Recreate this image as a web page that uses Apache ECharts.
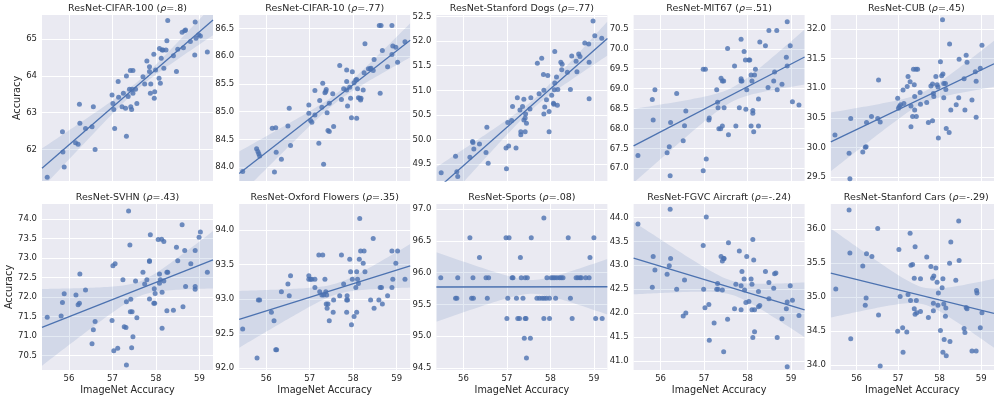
<!DOCTYPE html>
<html><head><meta charset="utf-8">
<script src="https://cdn.jsdelivr.net/npm/echarts@6/dist/echarts.min.js"></script>
<style>html,body{margin:0;padding:0;background:#fff}#c{width:994px;height:400px}</style>
</head><body><div id="c"></div>
<script>
// ---- data ----
const xTicks = [56, 57, 58, 59];
const cifar100 = [[55.50,61.24],[55.85,62.48],[55.86,61.93],[55.89,61.52],[56.15,62.18],[56.21,62.14],[56.24,63.23],[56.25,62.71],[56.38,62.57],[56.53,62.62],[56.56,63.16],[56.60,62.0],[56.99,63.48],[57.01,63.25],[57.03,63.09],[57.05,62.57],[57.13,63.85],[57.14,63.42],[57.22,63.16],[57.25,63.53],[57.30,63.12],[57.32,64.0],[57.32,62.36],[57.36,63.44],[57.39,63.64],[57.41,64.15],[57.42,63.16],[57.44,63.09],[57.45,63.64],[57.47,63.53],[57.47,64.15],[57.53,63.64],[57.56,63.25],[57.70,63.98],[57.74,63.78],[57.79,64.41],[57.85,64.25],[57.85,64.12],[57.87,63.53],[57.88,63.78],[57.95,64.59],[57.96,63.39],[57.97,63.57],[57.99,64.16],[58.07,63.94],[58.08,64.75],[58.10,63.80],[58.12,64.48],[58.14,64.71],[58.16,64.71],[58.18,64.21],[58.23,64.71],[58.25,64.96],[58.27,65.51],[58.47,64.12],[58.40,64.55],[58.50,64.73],[58.60,65.19],[58.63,64.77],[58.66,65.23],[58.68,65.25],[58.79,64.94],[58.89,64.57],[58.90,65.47],[58.92,65.03],[58.98,65.12],[59.02,65.09],[59.18,64.65]];
const cifar10 = [[55.46,83.92],[55.78,84.33],[55.81,84.28],[55.83,84.24],[55.85,84.20],[56.14,84.70],[56.22,84.71],[56.19,83.91],[56.23,84.27],[56.35,84.14],[56.50,84.74],[56.53,85.06],[56.56,84.39],[56.98,85.12],[56.98,84.97],[57.02,84.84],[57.05,84.81],[57.12,85.38],[57.12,84.94],[57.21,84.43],[57.23,85.20],[57.28,85.08],[57.30,85.51],[57.32,84.05],[57.35,85.34],[57.37,85.36],[57.38,85.40],[57.40,84.98],[57.42,84.66],[57.45,84.64],[57.45,85.15],[57.53,85.32],[57.55,84.73],[57.69,85.83],[57.73,85.22],[57.78,85.41],[57.85,85.75],[57.85,85.39],[57.85,85.54],[57.87,85.10],[57.92,85.44],[57.94,85.24],[57.96,84.89],[57.98,85.72],[58.02,85.52],[58.06,85.57],[58.08,85.58],[58.08,84.88],[58.10,85.41],[58.12,85.25],[58.15,85.24],[58.17,85.21],[58.18,85.24],[58.23,85.39],[58.25,85.70],[58.27,86.22],[58.35,85.77],[58.39,85.77],[58.41,85.78],[58.46,85.74],[58.48,85.94],[58.60,86.55],[58.64,86.55],[58.62,85.33],[58.67,86.10],[58.79,85.81],[58.89,86.55],[58.89,86.03],[58.91,86.18],[58.98,86.16],[59.02,85.89],[59.19,86.26]];
const dogs = [[55.49,49.33],[55.82,49.66],[55.85,49.35],[55.87,49.25],[56.15,49.64],[56.21,49.96],[56.22,49.94],[56.24,49.81],[56.37,49.91],[56.52,49.74],[56.54,50.25],[56.57,49.52],[56.98,49.83],[56.99,49.41],[57.04,49.87],[57.02,50.35],[57.11,50.39],[57.13,50.67],[57.21,49.83],[57.24,50.85],[57.30,50.60],[57.32,50.16],[57.32,50.10],[57.36,50.67],[57.39,50.82],[57.39,50.40],[57.42,50.44],[57.42,50.16],[57.43,50.52],[57.45,50.33],[57.53,50.62],[57.55,50.85],[57.70,51.55],[57.74,50.93],[57.80,51.65],[57.84,51.32],[57.85,51.0],[57.85,50.52],[57.87,50.66],[57.91,50.81],[57.94,51.30],[57.97,50.57],[57.97,50.16],[58.03,50.90],[58.07,50.74],[58.08,50.72],[58.09,51.01],[58.10,51.79],[58.10,51.15],[58.14,51.27],[58.16,50.70],[58.17,51.02],[58.24,51.57],[58.26,51.42],[58.27,51.53],[58.39,51.37],[58.46,51.02],[58.49,51.70],[58.59,51.59],[58.61,51.38],[58.65,51.74],[58.68,51.69],[58.79,51.96],[58.88,51.94],[58.89,51.57],[58.89,50.83],[58.98,52.41],[59.02,52.11],[59.18,52.06]];
const mit67 = [[55.48,67.32],[55.81,68.73],[55.83,68.21],[55.87,68.97],[56.15,67.39],[56.20,67.54],[56.23,68.15],[56.22,66.81],[56.37,68.88],[56.52,67.69],[56.55,68.07],[56.58,68.44],[56.98,69.49],[57.03,69.49],[56.98,66.94],[57.05,67.23],[57.11,68.21],[57.12,68.26],[57.29,68.97],[57.31,68.66],[57.32,68.52],[57.34,67.99],[57.38,67.99],[57.39,69.26],[57.42,69.19],[57.42,68.06],[57.45,69.19],[57.46,68.52],[57.54,70.01],[57.56,67.84],[57.70,69.57],[57.73,68.06],[57.81,68.52],[57.85,70.24],[57.85,69.25],[57.85,69.19],[57.87,69.19],[57.92,69.93],[57.95,69.72],[57.96,68.48],[57.98,68.97],[58.03,69.72],[58.05,69.72],[58.08,68.06],[58.08,69.34],[58.10,69.19],[58.12,68.38],[58.12,68.45],[58.14,67.92],[58.16,69.34],[58.18,69.49],[58.25,68.06],[58.25,68.74],[58.28,70.17],[58.41,70.08],[58.47,69.03],[58.49,70.46],[58.60,69.19],[58.62,69.42],[58.67,70.46],[58.68,68.97],[58.79,69.11],[58.89,69.79],[58.91,70.68],[58.91,69.57],[58.98,70.08],[59.03,68.67],[59.18,68.59]];
const cub = [[55.48,30.21],[55.82,29.90],[55.84,29.47],[55.86,30.49],[56.15,29.92],[56.21,30.0],[56.23,30.01],[56.24,30.42],[56.36,30.52],[56.51,30.49],[56.53,31.14],[56.57,30.43],[56.99,30.83],[57.01,30.66],[57.03,30.69],[57.06,30.72],[57.12,30.97],[57.14,30.74],[57.22,31.03],[57.24,31.20],[57.29,31.11],[57.31,30.70],[57.31,30.35],[57.35,30.52],[57.37,31.32],[57.39,31.06],[57.40,30.86],[57.40,30.63],[57.43,31.32],[57.44,30.52],[57.47,31.32],[57.53,30.93],[57.54,30.73],[57.69,30.76],[57.73,30.42],[57.79,31.04],[57.83,31.07],[57.83,30.45],[57.85,30.91],[57.86,30.86],[57.91,31.20],[57.94,31.06],[57.96,31.02],[57.97,30.16],[58.02,31.45],[58.05,31.21],[58.07,32.16],[58.08,31.24],[58.10,30.84],[58.10,31.08],[58.14,31.08],[58.15,30.98],[58.16,30.32],[58.23,30.25],[58.24,31.75],[58.27,30.63],[58.40,30.72],[58.47,31.49],[58.46,30.84],[58.59,31.16],[58.61,30.63],[58.64,31.56],[58.66,31.44],[58.78,30.80],[58.86,31.28],[58.88,31.12],[58.88,30.51],[58.98,31.34],[59.02,31.73]];
const svhn = [[55.50,71.48],[55.82,71.51],[55.85,71.86],[55.89,72.08],[56.16,72.05],[56.21,71.80],[56.24,71.84],[56.25,72.59],[56.38,72.18],[56.53,70.80],[56.56,71.16],[56.60,71.37],[56.99,71.40],[57.01,72.80],[57.03,70.62],[57.06,72.85],[57.12,70.69],[57.24,72.44],[57.27,71.24],[57.31,71.22],[57.32,71.88],[57.32,70.26],[57.37,74.20],[57.40,73.33],[57.41,71.62],[57.42,71.94],[57.44,70.70],[57.45,71.62],[57.47,70.98],[57.53,72.41],[57.56,71.47],[57.70,72.63],[57.74,72.33],[57.79,72.44],[57.85,71.95],[57.85,72.93],[57.85,72.91],[57.87,73.59],[57.95,71.84],[57.96,72.21],[57.97,71.84],[57.98,72.09],[58.05,73.47],[58.08,72.59],[58.08,72.35],[58.10,72.44],[58.13,73.48],[58.14,71.20],[58.14,72.12],[58.18,73.42],[58.18,72.41],[58.25,72.63],[58.27,72.63],[58.25,71.65],[58.40,71.66],[58.47,73.27],[58.50,72.93],[58.60,73.85],[58.62,71.75],[58.66,73.19],[58.68,72.27],[58.80,72.85],[58.90,72.27],[58.90,72.20],[58.90,73.19],[58.99,73.53],[59.02,73.66],[59.18,72.63]];
const flowers = [[55.46,92.57],[55.79,92.15],[55.82,92.99],[55.85,92.99],[56.12,92.81],[56.18,92.69],[56.22,92.27],[56.24,92.27],[56.35,93.11],[56.50,93.22],[56.53,93.05],[56.56,93.34],[56.98,93.34],[56.98,93.29],[57.02,93.29],[57.05,93.29],[57.12,93.29],[57.12,93.17],[57.21,93.64],[57.23,93.11],[57.28,93.06],[57.30,93.64],[57.32,93.06],[57.35,93.29],[57.37,93.11],[57.38,92.93],[57.39,93.06],[57.40,92.87],[57.42,92.93],[57.45,92.69],[57.55,92.99],[57.54,92.81],[57.69,93.05],[57.73,93.64],[57.78,93.22],[57.85,92.99],[57.85,92.81],[57.86,93.05],[57.87,92.99],[57.92,93.58],[57.94,93.40],[57.96,92.63],[57.98,93.29],[58.02,92.75],[58.06,93.17],[58.08,92.81],[58.08,93.40],[58.10,93.29],[58.12,93.23],[58.14,93.58],[58.15,94.17],[58.17,93.70],[58.23,93.52],[58.25,93.70],[58.27,93.40],[58.40,92.99],[58.46,93.88],[58.48,92.87],[58.59,92.99],[58.62,93.17],[58.65,93.17],[58.67,92.93],[58.79,93.05],[58.89,93.70],[58.89,93.17],[58.91,93.29],[58.98,93.52],[59.02,93.70],[59.19,93.29]];
const sports = [[55.48,95.92],[55.87,95.92],[56.22,95.92],[56.52,95.92],[56.58,95.92],[57.12,95.92],[57.14,95.92],[57.33,95.92],[57.42,95.92],[57.47,95.92],[57.92,95.92],[58.02,95.92],[58.06,95.92],[58.10,95.92],[58.15,95.92],[58.21,95.92],[58.25,95.92],[58.29,95.92],[58.59,95.92],[58.63,95.92],[58.68,95.92],[58.71,95.92],[58.81,95.92],[58.89,95.92],
  [55.82,95.6],[55.85,95.6],[56.19,95.6],[56.23,95.6],[56.55,95.6],[57.02,95.6],[57.22,95.6],[57.37,95.6],[57.69,95.6],[57.75,95.6],[57.81,95.6],[57.86,95.6],[57.91,95.6],[57.98,95.6],[58.12,95.6],[58.46,95.6],
  [56.15,96.55],[56.98,96.55],[57.05,96.55],[57.56,96.55],[58.41,96.55],[59.0,96.55],
  [56.37,96.24],[57.31,96.24],[58.91,96.24],
  [57.0,95.28],[57.25,95.28],[57.29,95.28],[57.42,95.28],[57.44,95.28],[57.85,95.28],[57.98,95.28],[58.5,95.28],[59.04,95.28],[59.19,95.28],
  [57.4,94.97],[57.54,94.97],[57.45,94.66],[57.85,96.86]];
const fgvc = [[55.48,43.86],[55.81,42.54],[55.83,43.18],[55.87,42.90],[56.15,42.81],[56.20,42.99],[56.22,44.17],[56.23,43.14],[56.37,42.50],[56.52,41.94],[56.55,42.69],[56.58,42.0],[56.98,43.41],[56.99,42.50],[57.02,42.11],[57.05,44.01],[57.11,42.18],[57.12,41.43],[57.23,41.79],[57.29,42.50],[57.31,42.62],[57.32,42.50],[57.39,43.18],[57.42,42.48],[57.42,43.09],[57.45,43.14],[57.45,41.19],[57.46,43.14],[57.54,41.87],[57.56,43.47],[57.70,42.09],[57.73,42.60],[57.81,43.30],[57.85,42.57],[57.85,42.07],[57.87,42.87],[57.92,42.71],[57.93,42.48],[57.96,42.22],[57.98,43.18],[58.03,42.24],[58.08,42.71],[58.10,42.60],[58.10,42.07],[58.12,43.54],[58.12,41.49],[58.14,43.11],[58.16,41.61],[58.16,42.07],[58.25,42.13],[58.25,42.45],[58.28,42.16],[58.41,42.87],[58.49,42.64],[58.49,42.30],[58.60,42.52],[58.62,42.82],[58.65,42.84],[58.68,41.49],[58.79,41.88],[58.89,42.09],[58.91,42.23],[58.91,40.88],[58.98,42.57],[59.03,42.27],[59.18,41.95]];
const cars = [[55.50,35.12],[55.82,36.28],[55.84,35.65],[55.86,34.39],[56.15,35.46],[56.21,34.88],[56.23,34.99],[56.24,35.64],[56.37,35.60],[56.51,36.01],[56.53,34.74],[56.57,33.99],[56.99,34.50],[57.02,35.70],[57.05,35.01],[57.11,34.55],[57.12,34.19],[57.21,34.49],[57.24,35.04],[57.29,35.94],[57.30,34.95],[57.31,35.47],[57.35,35.48],[57.39,34.83],[57.39,35.28],[57.41,35.74],[57.41,34.75],[57.44,34.95],[57.45,34.77],[57.54,34.79],[57.54,35.27],[57.69,35.59],[57.73,34.70],[57.79,35.45],[57.83,35.28],[57.85,34.91],[57.85,34.80],[57.86,35.31],[57.91,35.43],[57.94,35.22],[57.96,34.88],[57.97,35.06],[58.02,34.51],[58.06,35.14],[58.08,35.27],[58.08,34.19],[58.10,34.90],[58.11,34.38],[58.14,34.72],[58.15,34.84],[58.16,34.14],[58.25,34.35],[58.27,35.81],[58.24,35.50],[58.39,35.25],[58.46,36.12],[58.47,35.54],[58.59,34.54],[58.61,34.48],[58.64,34.85],[58.66,34.83],[58.78,34.21],[58.88,34.21],[58.89,35.10],[58.90,35.06],[58.98,34.55],[59.02,34.77]];

const names = ['ResNet-CIFAR-100','ResNet-CIFAR-10','ResNet-Stanford Dogs','ResNet-MIT67','ResNet-CUB','ResNet-SVHN','ResNet-Oxford Flowers','ResNet-Sports','ResNet-FGVC Aircraft','ResNet-Stanford Cars'];
const rhos = ['.8','.77','.77','.51','.45','.43','.35','.08','-.24','-.29'];
const datasets = [cifar100, cifar10, dogs, mit67, cub, svhn, flowers, sports, fgvc, cars];
const yRanges = [[61.14,65.66],[83.75,86.74],[49.16,52.53],[66.68,70.85],[29.43,32.24],[70.13,74.38],[91.975,94.38],[94.47,97.08],[40.81,44.28],[33.93,36.37]];
const yTicks = [[62,63,64,65],[84,84.5,85,85.5,86,86.5],[49.5,50,50.5,51,51.5,52,52.5],[67,67.5,68,68.5,69,69.5,70,70.5],[29.5,30,30.5,31,31.5,32],[70.5,71,71.5,72,72.5,73,73.5,74],[92,92.5,93,93.5,94],[94.5,95,95.5,96,96.5,97],[41,41.5,42,42.5,43,43.5,44],[34,34.5,35,35.5,36]];
const yDecimals = [0,1,1,1,1,1,1,1,1,1];
const xRange = [55.38, 59.31];

// ---- layout / style ----
const BLUE = '#4C72B0', TXT = '#262626', FONT = 'DejaVu Sans';
const W = 171, H = 166, LEFT0 = 42, STEP = 197.2, TOPS = [15, 204];
const T95 = 1.997, SLOPE_INFL = 4; // widen slope term to approximate the bootstrap band look

function fit(d) {
  const n = d.length;
  let mx = 0, my = 0; d.forEach(p => { mx += p[0]; my += p[1]; }); mx /= n; my /= n;
  let sxx = 0, sxy = 0; d.forEach(p => { sxx += (p[0]-mx)**2; sxy += (p[0]-mx)*(p[1]-my); });
  const b = sxy / sxx, a = my - b * mx;
  let sse = 0; d.forEach(p => { sse += (p[1] - a - b*p[0])**2; });
  const s = Math.sqrt(sse / (n - 2));
  return {a, b, s, n, mx, sxx};
}

const option = {animation: false, grid: [], xAxis: [], yAxis: [], series: [], title: []};
datasets.forEach((d, i) => {
  const row = Math.floor(i / 5), col = i % 5;
  const left = LEFT0 + col * STEP, top = TOPS[row];
  option.grid.push({left, top, width: W, height: H, show: true, backgroundColor: '#EAEAF2', borderWidth: 0});
  option.title.push({
    text: names[i] + ' ({i|ρ}=' + rhos[i] + ')',
    left: left + W / 2, top: top - 11.5, textAlign: 'center', padding: 0,
    textStyle: {fontSize: 9.5, fontWeight: 'normal', color: TXT, fontFamily: FONT,
      rich: {i: {fontStyle: 'italic', fontSize: 9.5, color: TXT, fontFamily: FONT}}}
  });
  option.xAxis.push({
    type: 'value', gridIndex: i, min: xRange[0], max: xRange[1],
    axisLine: {show: false}, axisTick: {show: false, customValues: xTicks},
    axisLabel: {show: row === 1, customValues: xTicks, fontSize: 8.5, color: TXT, fontFamily: FONT, margin: 4},
    splitLine: {show: true, lineStyle: {color: '#fff', width: 1}},
    name: row === 1 ? 'ImageNet Accuracy' : '', nameLocation: 'middle', nameGap: 15,
    nameTextStyle: {fontSize: 9.7, color: TXT, fontFamily: FONT}
  });
  const dec = yDecimals[i];
  option.yAxis.push({
    type: 'value', gridIndex: i, min: yRanges[i][0], max: yRanges[i][1],
    axisLine: {show: false}, axisTick: {show: false, customValues: yTicks[i]},
    axisLabel: {customValues: yTicks[i], fontSize: 8.5, color: TXT, fontFamily: FONT, margin: 5,
      formatter: v => Number(v).toFixed(dec)},
    splitLine: {show: true, lineStyle: {color: '#fff', width: 1}},
    name: col === 0 ? 'Accuracy' : '', nameLocation: 'middle', nameGap: 18, nameRotate: 90,
    nameTextStyle: {fontSize: 9.7, color: TXT, fontFamily: FONT}
  });
  const f = fit(d);
  const band = [];
  const N = 60;
  for (let k = 0; k <= N; k++) {
    const x = xRange[0] + (xRange[1] - xRange[0]) * k / N;
    const yh = f.a + f.b * x;
    const se = f.s * Math.sqrt(1 / f.n + SLOPE_INFL * (x - f.mx) ** 2 / f.sxx);
    band.push([x, yh - T95 * se, yh + T95 * se]);
  }
  option.series.push({
    type: 'custom', xAxisIndex: i, yAxisIndex: i, data: [[band[0][0], band[0][1]]], z: 2, silent: true,
    renderItem: (params, api) => {
      const pts = [];
      band.forEach(b => pts.push(api.coord([b[0], b[2]])));
      for (let k = band.length - 1; k >= 0; k--) pts.push(api.coord([band[k][0], band[k][1]]));
      const cs = params.coordSys;
      return {type: 'group', clipPath: {type: 'rect', shape: {x: cs.x, y: cs.y, width: cs.width, height: cs.height}},
        children: [{type: 'polygon', shape: {points: pts}, style: {fill: 'rgba(76,114,176,0.15)'}}]};
    }
  });
  option.series.push({
    type: 'scatter', xAxisIndex: i, yAxisIndex: i, data: d, symbolSize: 5, z: 3,
    itemStyle: {color: BLUE, opacity: 0.8}
  });
  option.series.push({
    type: 'line', xAxisIndex: i, yAxisIndex: i, showSymbol: false, clip: true, z: 4,
    data: [[xRange[0], f.a + f.b * xRange[0]], [xRange[1], f.a + f.b * xRange[1]]],
    lineStyle: {color: BLUE, width: 1.3}
  });
});
const chart = echarts.init(document.getElementById('c'), null, {renderer: 'canvas'});
chart.setOption(option);
</script></body></html>
